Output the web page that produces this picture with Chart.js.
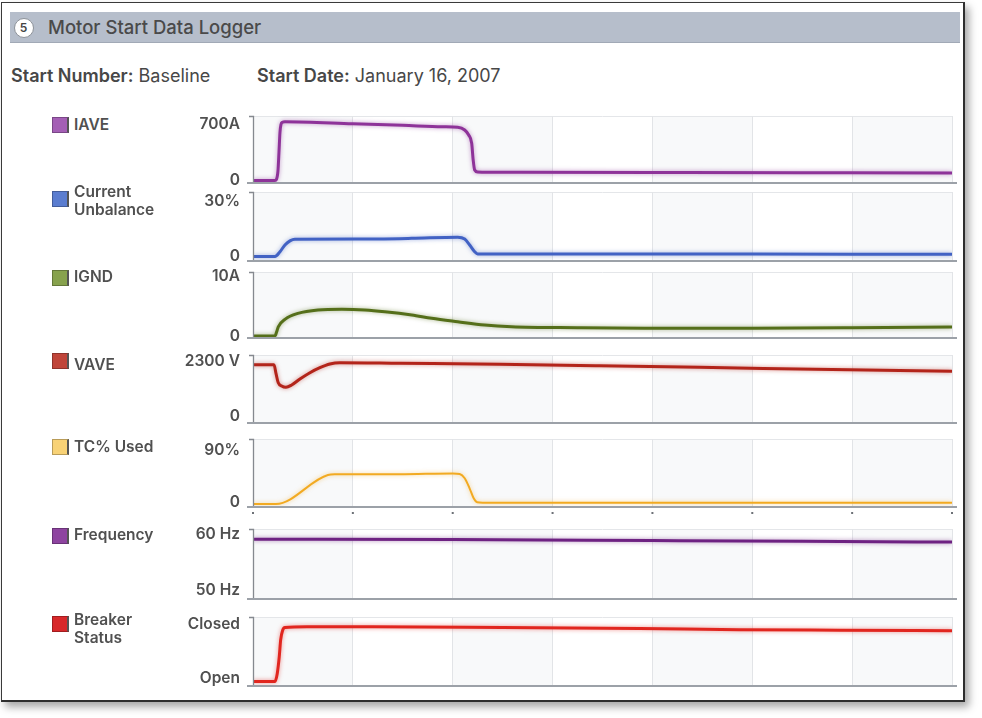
<!DOCTYPE html>
<html><head><meta charset="utf-8">
<script src="https://cdn.jsdelivr.net/npm/chart.js@4.4.1/dist/chart.umd.min.js"></script>
<style>
html,body{margin:0;padding:0;background:#fff;width:982px;height:718px;overflow:hidden;font-family:Inter,"Noto Sans",sans-serif;}
.abs{position:absolute;}
#card{left:1px;top:2px;width:964px;height:700px;box-sizing:border-box;border:1.5px solid #3a3a3a;border-right:2px solid #2e2e2e;border-bottom:2px solid #2e2e2e;background:#fff;box-shadow:4px 5px 8px rgba(0,0,0,0.35);}
#hdr{left:10px;top:12px;width:950px;height:31px;background:#b6becb;border-bottom:1px solid #a1a9b6;box-sizing:border-box;}
#num{left:13.5px;top:17.5px;width:20px;height:20px;box-sizing:border-box;border-radius:50%;background:#fff;border:1px solid #8d9299;font-size:12px;font-weight:600;color:#444;text-align:center;line-height:18px;}
#title{left:48px;top:12px;line-height:31px;font-size:18.5px;font-weight:500;color:#4a4a4a;white-space:nowrap;}
.info{top:66px;line-height:20px;font-size:18px;color:#474747;white-space:nowrap;}
.info b{font-weight:600;}
.sw{width:14px;height:14px;border:1px solid rgba(0,0,0,0.25);border-right:2px solid #555;box-sizing:content-box;}
.lg{left:74px;width:95px;font-size:15.5px;font-weight:600;line-height:18px;color:#505050;}
.pan{left:150px;width:815px;}
</style></head>
<body>
<div id="card" class="abs"></div>
<div id="hdr" class="abs"></div>
<div id="num" class="abs">5</div>
<div id="title" class="abs">Motor Start Data Logger</div>
<div class="abs info" style="left:11px"><b>Start Number:</b> Baseline</div>
<div class="abs info" style="left:257px"><b>Start Date:</b> January 16, 2007</div>
<div id="root"></div>
<script>
// ---------- data ----------
const seriesNames = ['IAVE','Current Unbalance','IGND','VAVE','TC% Used','Frequency','Breaker Status'];

const tIAVE = [0,2.2,2.35,2.5,2.6,2.7,2.8,2.95,3.2,10,15,19,20.5,21.2,21.6,21.9,22.05,22.2,22.5,25,40,55,70];
const vIAVE = [0,0,15,120,350,600,700,728,735,710,690,672,665,631,569,465,256,131,106,102,99,97,94];

const tCU = [0,2.2,2.7,3.2,3.7,4.2,10.2,15.9,20.5,21.2,21.7,22.2,22.5,30,50,70];
const vCU = [0,0,2.6,6.3,8.5,9.4,9.5,9.9,10.5,9.5,6.3,2.6,1.4,1.4,1.3,1.2];

const tIGND = [0,2.2,2.37,2.53,3.2,4.5,6.5,8.9,11.2,13.2,15.9,17.9,20.5,23.2,25.9,32.5,39.2,50,60,70];
const vIGND = [0,0,0.7,1.55,2.8,3.8,4.37,4.49,4.37,4.08,3.53,2.97,2.4,1.85,1.56,1.39,1.3,1.32,1.4,1.5];

const tVAVE = [0,2.1,2.3,2.53,2.87,3.3,3.87,4.7,5.7,6.7,7.7,8.7,14.7,24.7,34.7,44.7,59.7,70];
const vVAVE = [2174,2174,1810,1418,1280,1225,1322,1573,1838,2048,2204,2258,2233,2191,2132,2065,1960,1897];

const tTC = [0,2.3,7.5,8.2,14.7,20,20.7,21.2,21.7,22.1,22.45,23,40,70];
const vTC = [0,0,50.7,51.8,52,53.5,52.5,45,27,10,3,2.3,2.3,2.3];

const tFREQ = [0,20,40,55,70];
const vFREQ = [59.12,59.05,58.88,58.75,58.6];

const tBRK = [0,2.2,2.43,2.63,2.77,2.97,3.2,5.4,12,25,38.7,48.7,58.7,70];
const vBRK = [0,0,0.15,0.46,0.77,0.95,1.0,1.015,1.015,1.0,0.98,0.96,0.95,0.94];

const tickValues = [[0,700],[0,30],[0,10],[0,2300],[0,90],[50,60],[0,1]];
const tickLabels = [['0','700A'],['0','30%'],['0','10A'],['0','2300 V'],['0','90%'],['50 Hz','60 Hz'],['Open','Closed']];
const axisRanges = [[-31.25,806.25],[-2.45,35.18],[-0.336,10.76],[-272.8,2581.2],[-5.24,113.6],[48.38,60.95],[-0.0833,1.194]];
const xGrid = [0,70,10];

const seriesT = [tIAVE,tCU,tIGND,tVAVE,tTC,tFREQ,tBRK];
const seriesV = [vIAVE,vCU,vIGND,vVAVE,vTC,vFREQ,vBRK];

// ---------- styles / layout ----------
const lineColors = ['#8e3399','#4262c4','#556f1a','#b3241a','#f2aa22','#6e2282','#e1261f'];
const swatchColors = ['#a45fb5','#5b7dd0','#87a24d','#c0453a','#f8d276','#8e44a0','#d8282a'];
const lineWidths = [3,3,3,3,2,3,3];
const panelTop = [116,192,272,355,439,529,617];
const panelBottom = [183,261,338,423,507,599,686];
const labelOffsets = [0,0,0,0,-2,0,-3.5];
const legendTextTop = [116,183,268,355.5,438,526,610.5];
const swatchTop = [117,191,269.5,353,438.5,528,616];

const PAD_T = 6, PAD_B = 12, PAD_R = 13, YW = 103;

const deco = {
  id: 'deco',
  beforeDraw(chart, args, opts) {
    const {ctx, chartArea: a, scales: {x}} = chart;
    ctx.save();
    ctx.fillStyle = '#f8f9fa';
    for (let i = 0; i < 7; i += 2) {
      const x0 = x.getPixelForValue(i * 10), x1 = x.getPixelForValue(i * 10 + 10);
      ctx.fillRect(x0, a.top, x1 - x0, a.bottom - a.top);
    }
    ctx.strokeStyle = '#e4e6e9'; ctx.lineWidth = 1;
    ctx.beginPath(); ctx.moveTo(a.left, a.top + 0.5); ctx.lineTo(a.right, a.top + 0.5); ctx.stroke();
    ctx.restore();
  },
  beforeDatasetsDraw(chart, args, opts) {
    chart.ctx.save();
    chart.ctx.shadowColor = opts.glow;
    chart.ctx.shadowBlur = 4;
  },
  afterDatasetsDraw(chart) { chart.ctx.restore(); },
  afterDraw(chart, args, opts) {
    const {ctx, chartArea: a, scales: {x}} = chart;
    ctx.save();
    ctx.strokeStyle = '#85898f'; ctx.lineWidth = 1.3;
    ctx.beginPath();
    ctx.moveTo(a.left - 4, a.top + 0.5); ctx.lineTo(a.left + 0.5, a.top + 0.5);
    ctx.lineTo(a.left + 0.5, a.bottom);
    ctx.stroke();
    ctx.strokeStyle = '#9ca1a8'; ctx.lineWidth = 2;
    ctx.beginPath(); ctx.moveTo(a.left - 6, a.bottom); ctx.lineTo(a.right + 5, a.bottom); ctx.stroke();
    if (opts.dots) {
      ctx.fillStyle = '#6d7177';
      for (let v = xGrid[0]; v <= xGrid[1]; v += xGrid[2]) {
        ctx.fillRect(x.getPixelForValue(v) - 1, a.bottom + 5, 2, 2);
      }
    }
    ctx.restore();
  }
};

const root = document.getElementById('root');
seriesNames.forEach((name, i) => {
  // legend
  const sw = document.createElement('div');
  sw.className = 'abs sw';
  sw.style.left = '52px'; sw.style.top = swatchTop[i] + 'px';
  sw.style.background = swatchColors[i];
  root.appendChild(sw);
  const lg = document.createElement('div');
  lg.className = 'abs lg';
  lg.style.top = legendTextTop[i] + 'px';
  lg.textContent = name;
  root.appendChild(lg);

  // chart panel
  const wrap = document.createElement('div');
  wrap.className = 'abs pan';
  wrap.style.top = (panelTop[i] - PAD_T) + 'px';
  wrap.style.height = (panelBottom[i] - panelTop[i] + PAD_T + PAD_B) + 'px';
  const cv = document.createElement('canvas');
  wrap.appendChild(cv);
  root.appendChild(wrap);

  const tv = tickValues[i], tl = tickLabels[i];
  new Chart(cv, {
    type: 'line',
    data: {
      datasets: [{
        label: name,
        data: seriesT[i].map((t, k) => ({x: t, y: seriesV[i][k]})),
        borderColor: lineColors[i],
        borderWidth: lineWidths[i],
        pointRadius: 0,
        fill: false,
        cubicInterpolationMode: 'monotone'
      }]
    },
    options: {
      responsive: true, maintainAspectRatio: false, animation: false,
      layout: {padding: {top: PAD_T, right: PAD_R, bottom: PAD_B, left: 0}},
      plugins: {legend: {display: false}, tooltip: {enabled: false},
        deco: {glow: lineColors[i] + '80', dots: i === 4}},
      scales: {
        x: {
          type: 'linear', min: xGrid[0], max: xGrid[1],
          ticks: {display: false, stepSize: xGrid[2]},
          grid: {color: '#e2e4e7', drawTicks: false, lineWidth: 1},
          border: {display: false},
          afterFit(s) { s.height = 0; s.paddingLeft = 0; s.paddingRight = 0; }
        },
        y: {
          min: axisRanges[i][0], max: axisRanges[i][1],
          afterBuildTicks(s) { s.ticks = tv.map(v => ({value: v})); },
          ticks: {
            callback: (v) => tl[tv.indexOf(v)],
            font: {family: 'Inter', size: 15.5, weight: '600'},
            color: '#505050', padding: 13, labelOffset: labelOffsets[i], autoSkip: false
          },
          grid: {display: false, drawTicks: false},
          border: {display: false},
          afterFit(s) { s.width = YW; s.paddingTop = 0; s.paddingBottom = 0; }
        }
      }
    },
    plugins: [deco]
  });
});
</script>
</body></html>
